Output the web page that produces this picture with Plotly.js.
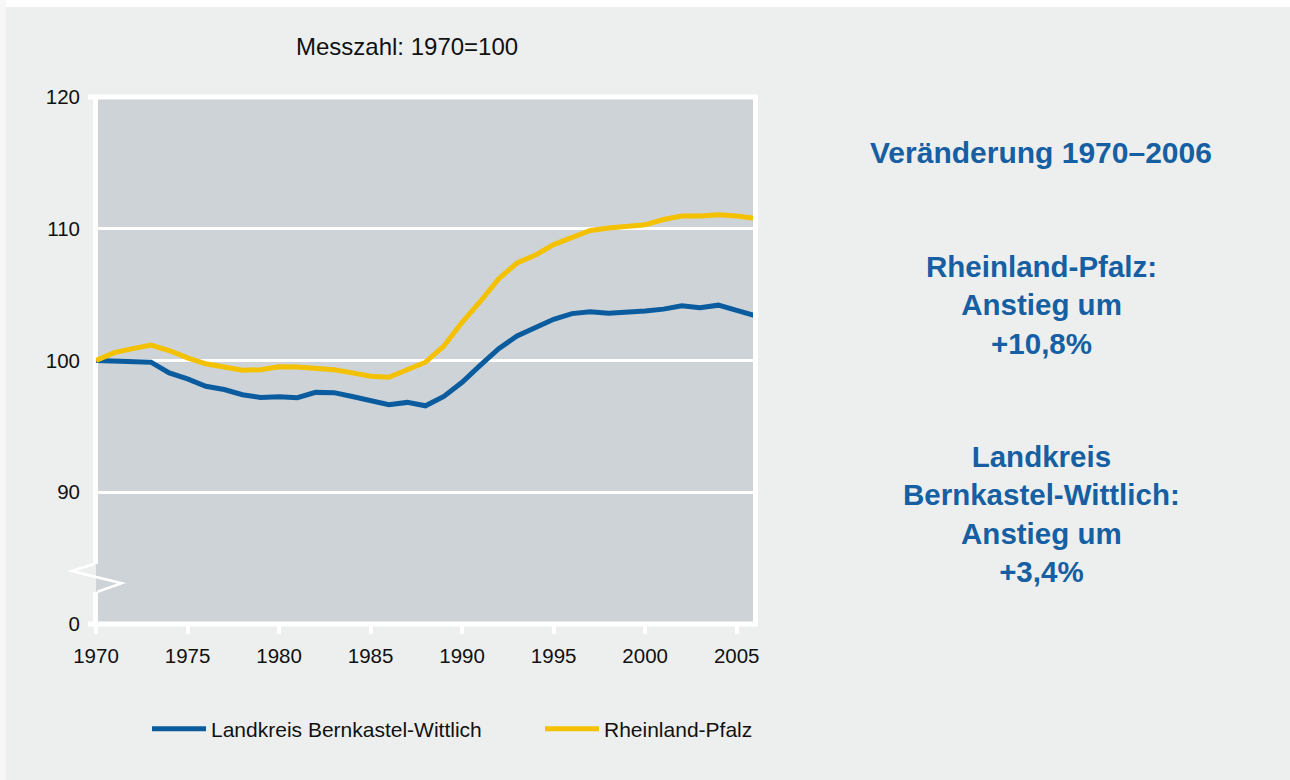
<!DOCTYPE html>
<html>
<head>
<meta charset="utf-8">
<script src="https://cdn.plot.ly/plotly-3.0.1.min.js"></script>
<style>html,body{margin:0;padding:0;background:#edefee;}#chart{width:1290px;height:780px;}</style>
</head>
<body>
<div id="chart"></div>
<script>
// ---- data ----
const years = [1970,1971,1972,1973,1974,1975,1976,1977,1978,1979,1980,1981,1982,1983,1984,1985,1986,1987,1988,1989,1990,1991,1992,1993,1994,1995,1996,1997,1998,1999,2000,2001,2002,2003,2004,2005,2006];
const bernkastelWittlich = [100,99.98,99.93,99.87,99.06,98.6,98.04,97.8,97.4,97.2,97.25,97.18,97.58,97.56,97.27,97.0,96.64,96.82,96.56,97.27,98.35,99.65,100.9,101.86,102.5,103.13,103.56,103.69,103.59,103.64,103.76,103.9,104.15,104.0,104.2,103.8,103.4];
const rheinlandPfalz = [100,100.6,100.9,101.17,100.76,100.2,99.75,99.5,99.26,99.3,99.52,99.5,99.37,99.3,99.06,98.8,98.73,99.3,99.87,101.1,102.9,104.5,106.2,107.4,108.0,108.8,109.37,109.87,110.05,110.18,110.3,110.7,110.96,110.96,111.07,110.96,110.8];
const seriesNames = ["Landkreis Bernkastel-Wittlich","Rheinland-Pfalz"];
const xTickVals = [1970,1975,1980,1985,1990,1995,2000,2005];
const yTickVals = [80,90,100,110,120];
const yTickText = ["0","90","100","110","120"];
const subtitle = "Messzahl: 1970=100";
const sideTitle = "Veränderung 1970–2006";
const sideBlock1 = ["Rheinland-Pfalz:","Anstieg um","+10,8%"];
const sideBlock2 = ["Landkreis","Bernkastel-Wittlich:","Anstieg um","+3,4%"];

const FONT = "Liberation Sans, Arial, Helvetica, sans-serif";
const BLUE = "#0b5c9f";
const YELLOW = "#f3c100";
const TEXTBLUE = "#155fa2";

const traces = [
  {x: years, y: bernkastelWittlich, name: seriesNames[0], type: "scatter", mode: "lines",
   line: {color: BLUE, width: 5}, legend: "legend"},
  {x: years, y: rheinlandPfalz, name: seriesNames[1], type: "scatter", mode: "lines",
   line: {color: YELLOW, width: 5}, legend: "legend2"}
];

// helpers: pixel -> paper (plot area l=96,w=659,t=97,h=527)
const L = 96, W = 659, T = 97, H = 527;
const px = v => (v - L) / W;
const py = v => (T + H - v) / H;

const white = {color: "#ffffff", width: 5};
const shapes = [
  {type: "rect", xref: "paper", yref: "paper", x0: px(0), x1: px(1290), y0: py(7), y1: py(0), fillcolor: "#ffffff", line: {width: 0}, layer: "below"},
  {type: "rect", xref: "paper", yref: "paper", x0: px(0), x1: px(6), y0: py(780), y1: py(0), fillcolor: "#f6f7f6", line: {width: 0}, layer: "below"},
  {type: "line", xref: "paper", yref: "paper", x0: px(88), x1: px(758), y0: 1, y1: 1, line: white},
  {type: "line", xref: "paper", yref: "paper", x0: px(88), x1: px(758), y0: 0, y1: 0, line: white},
  {type: "line", xref: "paper", yref: "paper", x0: px(95.5), x1: px(95.5), y0: 1, y1: py(564), line: white, layer: "below"},
  {type: "line", xref: "paper", yref: "paper", x0: px(95.5), x1: px(95.5), y0: py(591.7), y1: 0, line: white, layer: "below"},
  {type: "line", xref: "paper", yref: "paper", x0: px(755.5), x1: px(755.5), y0: 0, y1: 1, line: white},
  {type: "path", xref: "paper", yref: "paper",
   path: "M" + px(94) + "," + py(564) + " L" + px(71.7) + "," + py(571) + " L" + px(121.7) + "," + py(583.3) + " L" + px(97.5) + "," + py(591.7),
   line: {color: "#ffffff", width: 2.5}}
];

const annotations = [
  {text: subtitle, xref: "paper", yref: "paper", x: px(406.5), y: py(47), xanchor: "center", yanchor: "middle", showarrow: false,
   font: {family: FONT, size: 24, color: "#111111"}},
  {text: "<b>" + sideTitle + "</b>", xref: "paper", yref: "paper", x: px(1041), y: py(153), xanchor: "center", yanchor: "middle", showarrow: false,
   font: {family: FONT, size: 30, color: TEXTBLUE}},
  {text: "<b>" + sideBlock1.join("<br>") + "</b>", xref: "paper", yref: "paper", x: px(1041), y: py(304.5), xanchor: "center", yanchor: "middle", align: "center", showarrow: false,
   font: {family: FONT, size: 29.5, color: TEXTBLUE}},
  {text: "<b>" + sideBlock2.join("<br>") + "</b>", xref: "paper", yref: "paper", x: px(1041), y: py(513.5), xanchor: "center", yanchor: "middle", align: "center", showarrow: false,
   font: {family: FONT, size: 29.5, color: TEXTBLUE}}
];

const legendFont = {family: FONT, size: 21, color: "#111111"};
const layout = {
  width: 1290, height: 780,
  margin: {l: L, r: 1290 - L - W, t: T, b: 780 - T - H, pad: 0},
  paper_bgcolor: "#edefee",
  plot_bgcolor: "#ced3d7",
  font: {family: FONT, color: "#111111"},
  showlegend: true,
  legend: {orientation: "h", x: px(147), y: py(729), xanchor: "left", yanchor: "middle",
           font: legendFont, bgcolor: "rgba(0,0,0,0)", itemwidth: 54},
  legend2: {orientation: "h", x: px(540), y: py(729), xanchor: "left", yanchor: "middle",
           font: legendFont, bgcolor: "rgba(0,0,0,0)", itemwidth: 54},
  xaxis: {range: [1970, 2006], tickvals: xTickVals, ticks: "outside", ticklen: 9, tickwidth: 4, tickcolor: "#ffffff",
          ticklabelstandoff: 4,
          showgrid: false, zeroline: false, showline: false, fixedrange: true,
          tickfont: {family: FONT, size: 20.5, color: "#111111"}},
  yaxis: {range: [80, 120], tickvals: yTickVals, ticktext: yTickText, ticks: "", ticklabelstandoff: 15,
          showgrid: true, gridcolor: "#ffffff", gridwidth: 3, zeroline: false, showline: false, fixedrange: true,
          tickfont: {family: FONT, size: 20.5, color: "#111111"}},
  shapes: shapes,
  annotations: annotations
};

Plotly.newPlot("chart", traces, layout, {displayModeBar: false, staticPlot: true});
</script>
</body>
</html>
